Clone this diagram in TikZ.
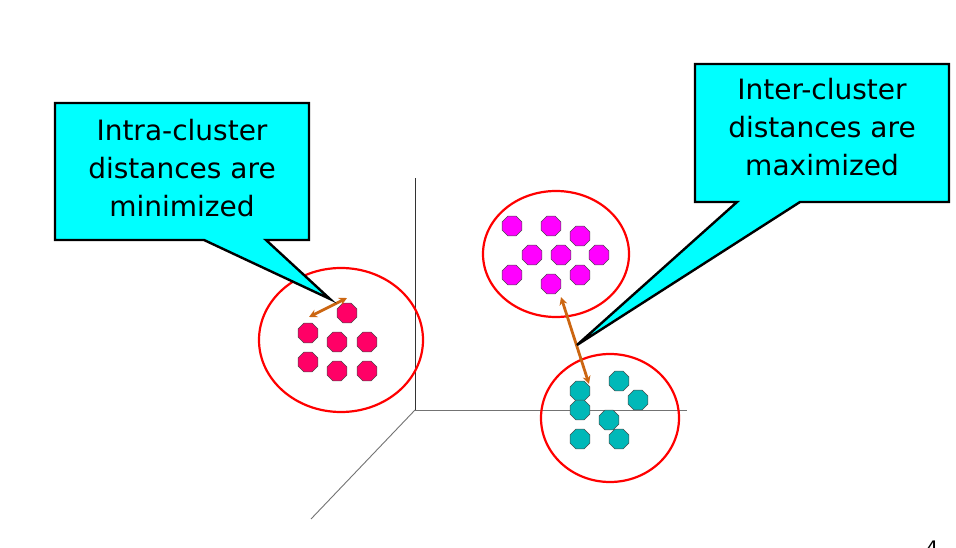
\documentclass[tikz,border=0pt]{standalone}
\usepackage{fontspec}
\setmainfont{DejaVu Sans}
\usetikzlibrary{shapes.geometric,arrows.meta}
\definecolor{callcyan}{HTML}{00FFFF}
\definecolor{dotred}{HTML}{FF0066}
\definecolor{dotmag}{HTML}{FF00FF}
\definecolor{dotcyan}{HTML}{00B8B8}
\definecolor{arrorange}{HTML}{CC6611}
\tikzset{
  dot/.style={regular polygon, regular polygon sides=8, minimum size=21.5pt, inner sep=0pt, draw=black!70, line width=0.6pt},
  reddot/.style={dot, fill=dotred},
  magdot/.style={dot, fill=dotmag},
  cyadot/.style={dot, fill=dotcyan},
  clusterring/.style={ellipse, draw=red, line width=2.2pt, inner sep=0pt},
  callout/.style={fill=callcyan, draw=black, line width=2.4pt, line join=miter},
  calltext/.style={align=center, font=\fontsize{28}{38}\selectfont, inner sep=0pt},
  axis/.style={line width=0.9pt},
  distarrow/.style={draw=arrorange, line width=2.8pt, arrows={Stealth[length=8pt,width=8pt]-Stealth[length=8pt,width=8pt]}}
}
\begin{document}
\begin{tikzpicture}[x=1pt,y=-1pt]
\useasboundingbox[fill=white] (0,0) rectangle (956,548);
% axes
\coordinate (O) at (415,410);
\coordinate (Ytop) at (415,178);
\coordinate (Xend) at (687,410);
\coordinate (Zend) at (311,519);
\draw[axis, black!80] (O) -- (Ytop);
\draw[axis, black!55] (O) -- (Xend);
\draw[axis, black!55] (O) -- (Zend);
% cluster rings
\node[clusterring, minimum width=164pt, minimum height=144pt] (ringA) at (341,340) {};
\node[clusterring, minimum width=146pt, minimum height=126pt] (ringB) at (556,254) {};
\node[clusterring, minimum width=138pt, minimum height=128pt] (ringC) at (610,418) {};
% red cluster
\node[reddot] (r1) at (347,313) {};
\node[reddot] (r2) at (308,333) {};
\node[reddot] (r3) at (337,342) {};
\node[reddot] (r4) at (367,342) {};
\node[reddot] (r5) at (308,362) {};
\node[reddot] (r6) at (337,371) {};
\node[reddot] (r7) at (367,371) {};
% magenta cluster
\node[magdot] (m1) at (512,226) {};
\node[magdot] (m2) at (551,226) {};
\node[magdot] (m3) at (580,236) {};
\node[magdot] (m4) at (532,255) {};
\node[magdot] (m5) at (561,255) {};
\node[magdot] (m6) at (599,255) {};
\node[magdot] (m7) at (512,275) {};
\node[magdot] (m8) at (580,275) {};
\node[magdot] (m9) at (551,284) {};
% cyan cluster
\node[cyadot] (c1) at (580,391) {};
\node[cyadot] (c2) at (619,381) {};
\node[cyadot] (c3) at (638,400) {};
\node[cyadot] (c4) at (580,410) {};
\node[cyadot] (c5) at (609,420) {};
\node[cyadot] (c6) at (580,439) {};
\node[cyadot] (c7) at (619,439) {};
% distance arrows
\coordinate (a1) at (309,317);
\coordinate (a2) at (347,298);
\draw[distarrow] (a1) -- (a2);
\coordinate (b1) at (561,297);
\coordinate (b2) at (589,384);
\draw[distarrow] (b1) -- (b2);
% left callout
\coordinate (tipL) at (330,299);
\draw[callout] (55,103) -- (309,103) -- (309,240) -- (266,240) -- (tipL) -- (204,240) -- (55,240) -- cycle;
\node[calltext] (intra) at (182,168) {Intra-cluster\\distances are\\minimized};
% right callout
\coordinate (tipR) at (577,345);
\draw[callout] (695,64) -- (949,64) -- (949,202) -- (800,202) -- (tipR) -- (737,202) -- (695,202) -- cycle;
\node[calltext] (inter) at (822,127) {Inter-cluster\\distances are\\maximized};
% slide number (cut off at the lower edge, as in the slide)
\node[anchor=north, font=\fontsize{20}{24}\selectfont, inner sep=0pt] (pagenum) at (932,541) {4};
\end{tikzpicture}
\end{document}
